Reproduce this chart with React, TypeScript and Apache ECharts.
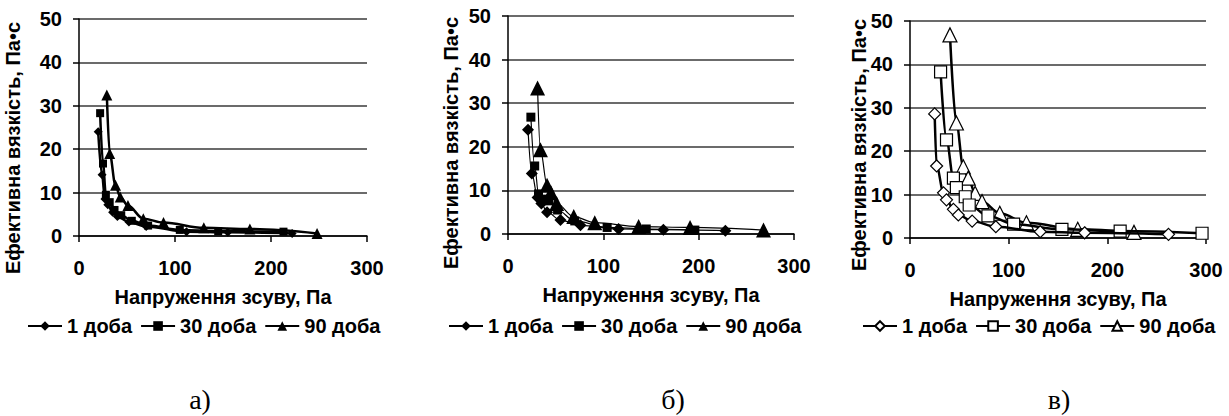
import React, { useEffect, useRef } from 'react';
import * as echarts from 'echarts';

const FONT = "'Liberation Sans', Arial, sans-serif";
const SERIF = "'Liberation Serif', 'Times New Roman', serif";

const SERIES_NAMES = ['1 доба', '30 доба', '90 доба'];
const X_TITLE = 'Напруження зсуву, Па';
const Y_TITLE = 'Ефективна вязкість, Па•с';
const PANEL_LABELS = ['а)', 'б)', 'в)'];
const X_MIN = 0, X_MAX = 300, X_STEP = 100;
const Y_MIN = 0, Y_MAX = 50, Y_STEP = 10;

// Panel а)
const aDay1X = [20, 24, 27, 30, 35, 40, 52, 70, 112, 155, 222];
const aDay1Y = [24, 14.1, 8.5, 7.2, 5.5, 4.5, 3.2, 2.2, 1.0, 0.85, 0.6];
const aDay30X = [22, 25, 28, 32, 37, 44, 55, 72, 105, 145, 213];
const aDay30Y = [28.3, 16.7, 9.5, 7.8, 6.0, 4.8, 3.5, 2.4, 1.4, 1.1, 1.0];
const aDay90X = [29, 32, 38, 43, 51, 67, 88, 130, 178, 248];
const aDay90Y = [32.5, 19, 11.7, 9, 7, 4, 3.1, 1.9, 1.6, 0.6];

// Panel б)
const bDay1X = [21, 25, 31, 35, 41, 55, 76, 116, 163, 228];
const bDay1Y = [23.9, 13.9, 8.4, 7, 5.0, 3.2, 2.0, 1.15, 1.0, 0.76];
const bDay30X = [24, 28, 32, 37, 43, 52, 70, 104, 145, 196];
const bDay30Y = [26.8, 15.6, 9.2, 8, 7.6, 5.5, 3, 1.5, 1.15, 0.9];
const bDay90X = [31, 34, 41, 45, 51, 69, 91, 137, 191, 268];
const bDay90Y = [33.5, 19.3, 11.2, 9.5, 7, 4, 2.6, 1.7, 1.5, 0.9];

// Panel в)
const cDay1X = [25, 27, 34, 37, 44, 49, 63, 87, 132, 177, 262];
const cDay1Y = [28.6, 16.6, 10.4, 8.8, 6.6, 5.3, 3.9, 2.6, 1.45, 1.2, 0.85];
const cDay30X = [31, 37, 44, 47, 56, 60, 79, 105, 154, 213, 296];
const cDay30Y = [38.3, 22.6, 13.8, 11.6, 9.5, 7.6, 5.1, 3.2, 2.0, 1.6, 1.1];
const cDay90X = [40.5, 47, 54, 59, 66, 73, 91, 118, 170, 227];
const cDay90Y = [46.8, 26.5, 16.4, 13.8, 10.3, 8.4, 5.7, 3.5, 2.0, 1.3];

const zip = (xs: number[], ys: number[]) => xs.map((x, i) => [x, ys[i]]);

type Panel = {
  divLeft: number;
  divWidth: number;
  gridLeft: number;
  gridTop: number;
  gridWidth: number;
  gridHeight: number;
  yTitleX: number;
  yTitleY: number;
  legendLeft: number;
  labelX: number;
  lineWidth: number;
  hollow: boolean;
  sizes: number[];
  label: string;
  data: number[][][];
};

const PANELS: Panel[] = [
  {
    divLeft: 0, divWidth: 410, gridLeft: 79, gridTop: 19, gridWidth: 288, gridHeight: 217,
    yTitleX: 13, yTitleY: 148, legendLeft: 22, labelX: 200, lineWidth: 2.5, hollow: false,
    sizes: [9, 8, 11], label: PANEL_LABELS[0],
    data: [zip(aDay1X, aDay1Y), zip(aDay30X, aDay30Y), zip(aDay90X, aDay90Y)],
  },
  {
    divLeft: 410, divWidth: 410, gridLeft: 98, gridTop: 16, gridWidth: 286, gridHeight: 218,
    yTitleX: 41, yTitleY: 143, legendLeft: 33, labelX: 263, lineWidth: 1.2, hollow: false,
    sizes: [12, 9, 15], label: PANEL_LABELS[1],
    data: [zip(bDay1X, bDay1Y), zip(bDay30X, bDay30Y), zip(bDay90X, bDay90Y)],
  },
  {
    divLeft: 820, divWidth: 409, gridLeft: 90, gridTop: 21, gridWidth: 296, gridHeight: 217,
    yTitleX: 39, yTitleY: 145, legendLeft: 37, labelX: 239, lineWidth: 2.5, hollow: true,
    sizes: [12, 12, 14], label: PANEL_LABELS[2],
    data: [zip(cDay1X, cDay1Y), zip(cDay30X, cDay30Y), zip(cDay90X, cDay90Y)],
  },
];

const SYMBOLS = ['diamond', 'rect', 'triangle'];

function buildOption(p: Panel) {
  const txt = { fontFamily: FONT, fontWeight: 'bold' as const, fontSize: 20, color: '#000' };
  return {
    animation: false,
    grid: { left: p.gridLeft, top: p.gridTop, width: p.gridWidth, height: p.gridHeight },
    xAxis: {
      type: 'value', min: X_MIN, max: X_MAX, interval: X_STEP,
      name: X_TITLE, nameLocation: 'middle', nameGap: 51, nameTextStyle: txt,
      axisLine: { show: true, lineStyle: { color: '#000', width: 1.5 } },
      axisTick: { show: true, length: 6, lineStyle: { color: '#000', width: 1.5 } },
      splitLine: { show: false },
      axisLabel: { ...txt, margin: 22 },
    },
    yAxis: {
      type: 'value', min: Y_MIN, max: Y_MAX, interval: Y_STEP,
      axisLine: { show: true, lineStyle: { color: '#000', width: 1.5 } },
      axisTick: { show: true, length: 6, lineStyle: { color: '#000', width: 1.5 } },
      splitLine: { show: true, lineStyle: { color: '#3a3a3a', width: 1.5 } },
      axisLabel: { ...txt, margin: 17 },
    },
    legend: {
      data: SERIES_NAMES,
      left: p.legendLeft, top: 311,
      itemWidth: 34, itemHeight: 12, itemGap: 8,
      textStyle: txt,
      selectedMode: false,
    },
    graphic: [
      {
        type: 'text', x: p.yTitleX, y: p.yTitleY, rotation: Math.PI / 2,
        style: { text: Y_TITLE, font: `bold 20px ${FONT}`, fill: '#000', align: 'center', verticalAlign: 'middle' },
      },
      {
        type: 'text', x: p.labelX, y: 399,
        style: { text: p.label, font: `28px ${SERIF}`, fill: '#000', align: 'center', verticalAlign: 'middle' },
      },
    ],
    series: p.data.map((d, i) => ({
      name: SERIES_NAMES[i],
      type: 'line',
      data: d,
      smooth: 0.35,
      smoothMonotone: 'x',
      symbol: SYMBOLS[i],
      symbolSize: p.sizes[i],
      lineStyle: { color: '#000', width: p.lineWidth },
      itemStyle: p.hollow
        ? { color: '#fff', borderColor: '#000', borderWidth: 1.2 }
        : { color: '#000', borderColor: '#000', borderWidth: 0 },
      z: 3 - i,
    })),
  };
}

function Chart({ p }: { p: Panel }) {
  const ref = useRef<HTMLDivElement>(null);
  useEffect(() => {
    if (!ref.current) return;
    const chart = echarts.init(ref.current, undefined, { renderer: 'svg' });
    chart.setOption(buildOption(p) as any);
    return () => chart.dispose();
  }, [p]);
  return (
    <div
      ref={ref}
      style={{ position: 'absolute', left: p.divLeft, top: 0, width: p.divWidth, height: 416 }}
    />
  );
}

export default function App() {
  return (
    <div style={{ position: 'absolute', left: 0, top: 0, width: 1229, height: 416, background: '#fff' }}>
      {PANELS.map((p, i) => (
        <Chart key={i} p={p} />
      ))}
    </div>
  );
}
